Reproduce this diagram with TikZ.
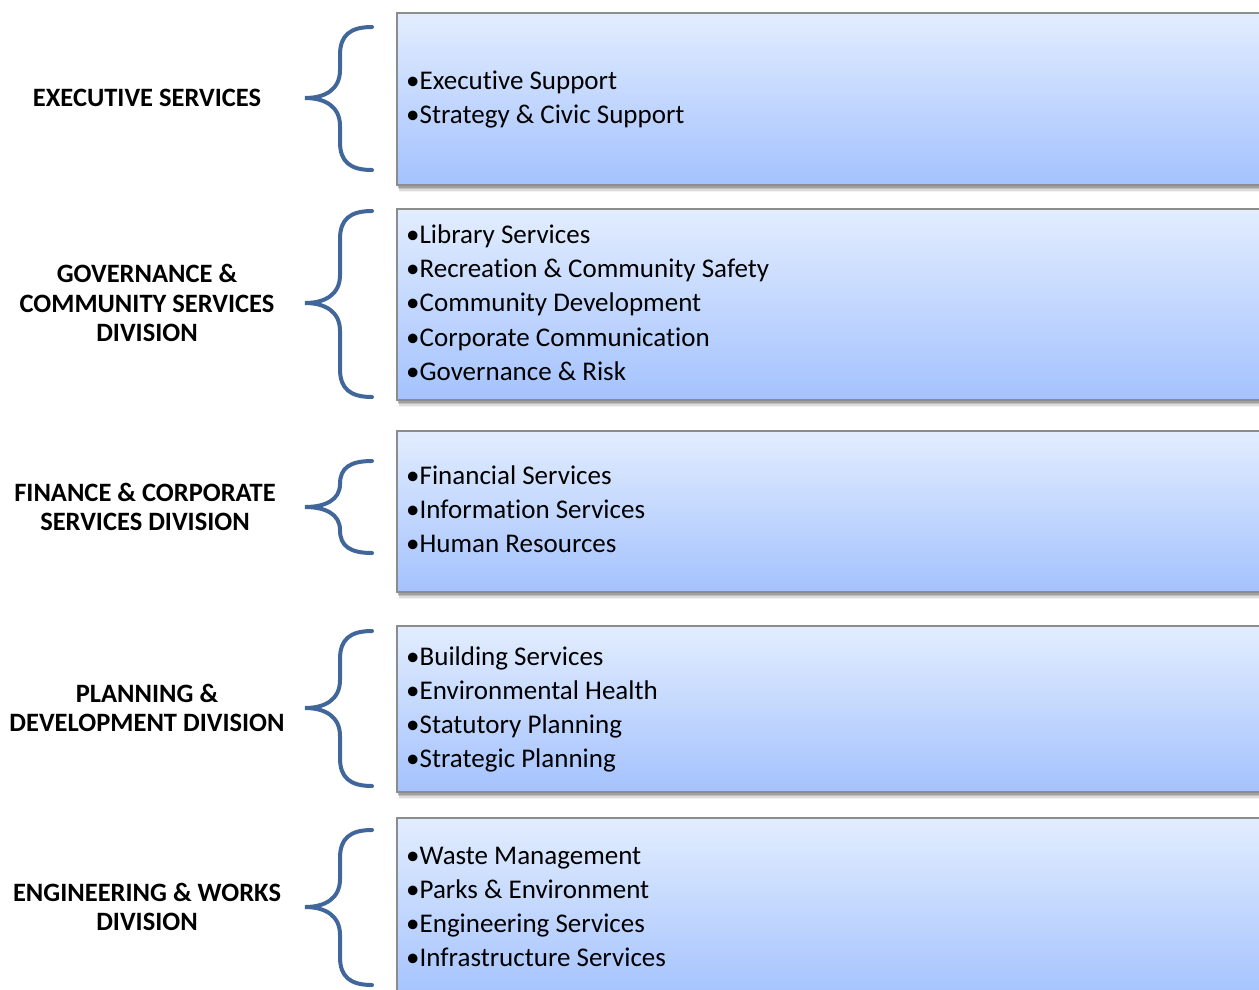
\documentclass[tikz,border=0pt]{standalone}
\usepackage{fontspec}
\setmainfont{Carlito}[Ligatures=NoCommon]
\definecolor{bracecol}{RGB}{65,103,154}
\definecolor{boxtop}{RGB}{226,237,254}
\definecolor{boxbot}{RGB}{164,194,254}
\definecolor{boxline}{RGB}{140,140,140}
\begin{document}
\begin{tikzpicture}[x=1pt,y=-1pt,
  itemtext/.style={anchor=base west,inner sep=0pt,font=\fontsize{27}{30}\selectfont},
  divlabel/.style={align=center,inner sep=0pt,font=\bfseries\fontsize{26.5}{29.5}\selectfont},
  bracestroke/.style={draw=bracecol,line width=4pt,line cap=round}]
\useasboundingbox (0,0) rectangle (1259,989);
\clip (0,0) rectangle (1259,989);
\newcommand\divbox[2]{%
  \foreach \k/\op in {7/0.05,5.5/0.09,4/0.13,2.5/0.17}{%
    \fill[black,opacity=\op] (397+\k*0.3,#1+\k) rectangle (1270,#2+\k);}
  \fill[top color=boxtop,bottom color=boxbot] (397,#1) rectangle (1270,#2);
  \draw[boxline,line width=1.5pt] (397,#1) rectangle (1270,#2);}
\newcommand\divbrace[3]{%
  \pgfmathsetmacro\ha{min(28,(#2-#1)/2)}%
  \pgfmathsetmacro\hb{min(28,(#3-#2)/2)}%
  \draw[bracestroke] (372,#1) .. controls (350,#1) and (340,#1+\ha*0.3) .. (340,#1+\ha)
    -- (340,#2-\ha) .. controls (340,#2-\ha*0.3) and (325,#2) .. (305,#2)
    .. controls (325,#2) and (340,#2+\hb*0.3) .. (340,#2+\hb)
    -- (340,#3-\hb) .. controls (340,#3-\hb*0.3) and (350,#3) .. (372,#3);}
% boxes
\divbox{13}{185}
\divbox{209}{400}
\divbox{431}{592}
\divbox{626}{792}
\divbox{818}{1000}
% braces
\divbrace{27}{98}{170}
\divbrace{211}{303}{397}
\divbrace{461}{507}{553}
\divbrace{631}{708}{786}
\divbrace{830}{907}{985}
% labels
\node[divlabel] (l1) at (147,98) {EXECUTIVE SERVICES};
\node[divlabel] (l2) at (147,303) {GOVERNANCE \&\\COMMUNITY SERVICES\\DIVISION};
\node[divlabel] (l3) at (145,507) {FINANCE \& CORPORATE\\SERVICES DIVISION};
\node[divlabel] (l4) at (147,708) {PLANNING \&\\DEVELOPMENT DIVISION};
\node[divlabel] (l5) at (147,907) {ENGINEERING \& WORKS\\DIVISION};
% items
\node[itemtext] (a1) at (406,89) {•Executive Support};
\node[itemtext] (a2) at (406,123) {•Strategy \& Civic Support};
\node[itemtext] (b1) at (406,243) {•Library Services};
\node[itemtext] (b2) at (406,277) {•Recreation \& Community Safety};
\node[itemtext] (b3) at (406,311) {•Community Development};
\node[itemtext] (b4) at (406,346) {•Corporate Communication};
\node[itemtext] (b5) at (406,380) {•Governance \& Risk};
\node[itemtext] (c1) at (406,484) {•Financial Services};
\node[itemtext] (c2) at (406,518) {•Information Services};
\node[itemtext] (c3) at (406,552) {•Human Resources};
\node[itemtext] (d1) at (406,665) {•Building Services};
\node[itemtext] (d2) at (406,699) {•Environmental Health};
\node[itemtext] (d3) at (406,733) {•Statutory Planning};
\node[itemtext] (d4) at (406,767) {•Strategic Planning};
\node[itemtext] (e1) at (406,864) {•Waste Management};
\node[itemtext] (e2) at (406,898) {•Parks \& Environment};
\node[itemtext] (e3) at (406,932) {•Engineering Services};
\node[itemtext] (e4) at (406,966) {•Infrastructure Services};
\end{tikzpicture}
\end{document}
